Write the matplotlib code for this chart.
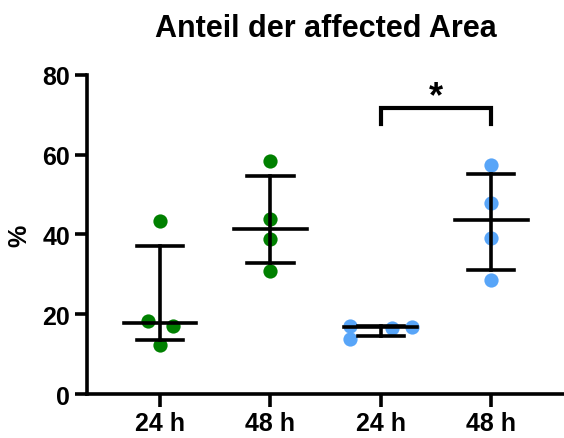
import numpy as np
import matplotlib.pyplot as plt

plt.rcParams['font.family'] = ['Liberation Sans', 'DejaVu Sans']
plt.rcParams['font.weight'] = 'bold'

# values (%)
labels = ["24 h", "48 h", "24 h", "48 h"]
green_24 = [43.4, 18.4, 17.1, 12.4]
green_48 = [58.3, 43.9, 38.8, 30.8]
blue_24 = [17.0, 13.8, 16.6, 16.9]
blue_48 = [57.5, 47.9, 39.2, 28.5]
groups = [green_24, green_48, blue_24, blue_48]
colors = ["#008000", "#008000", "#58A5F8", "#58A5F8"]

# horizontal spread of the dots (scatter layout)
spread = [[0.0, -0.11, 0.12, 0.005],
          [0.0, 0.0, 0.0, 0.0],
          [-0.28, -0.28, 0.10, 0.28],
          [0.0, 0.0, 0.0, 0.0]]

fig = plt.figure(figsize=(5.64, 4.39), dpi=100)
ax = fig.add_axes([0.154, 0.100, 0.846, 0.7276])

lw = 2.6
for i, (vals, col, dx) in enumerate(zip(groups, colors, spread)):
    vals = np.array(vals)
    # median with interquartile range
    q1, med, q3 = np.percentile(vals, [25, 50, 75], method='weibull')
    ax.scatter(i + np.array(dx), vals, s=105, color=col, zorder=2, linewidths=0)
    ax.plot([i - 0.33, i + 0.33], [med, med], color='black', lw=lw, zorder=3)
    ax.plot([i, i], [q1, q3], color='black', lw=lw, zorder=3)
    for q in (q1, q3):
        ax.plot([i - 0.21, i + 0.21], [q, q], color='black', lw=lw, zorder=3)

# significance bracket
ax.plot([2, 2, 3, 3], [67.7, 71.6, 71.6, 67.7], color='black', lw=3.0,
        solid_joinstyle='miter', clip_on=False)
ax.text(2.5, 70.2, "*", ha='center', va='bottom', fontsize=26, fontweight='bold')

ax.set_xlim(-0.662, 3.66)
ax.set_ylim(0, 80)
ax.set_yticks([0, 20, 40, 60, 80])
ax.set_xticks(range(4))
ax.set_xticklabels(labels)
ax.tick_params(axis='both', labelsize=18, width=lw, length=9, color='black')
ax.tick_params(axis='x', pad=3)
ax.tick_params(axis='y', pad=3)
for lab in ax.get_xticklabels() + ax.get_yticklabels():
    lab.set_fontweight('bold')
for s in ['top', 'right']:
    ax.spines[s].set_visible(False)
for s in ['left', 'bottom']:
    ax.spines[s].set_linewidth(lw)
ax.set_ylabel("%", fontsize=18, fontweight='bold', labelpad=8)

fig.text(0.577, 0.934, "Anteil der affected Area", ha='center', va='center',
         fontsize=22, fontweight='bold')

fig.savefig("out.png", dpi=100)
